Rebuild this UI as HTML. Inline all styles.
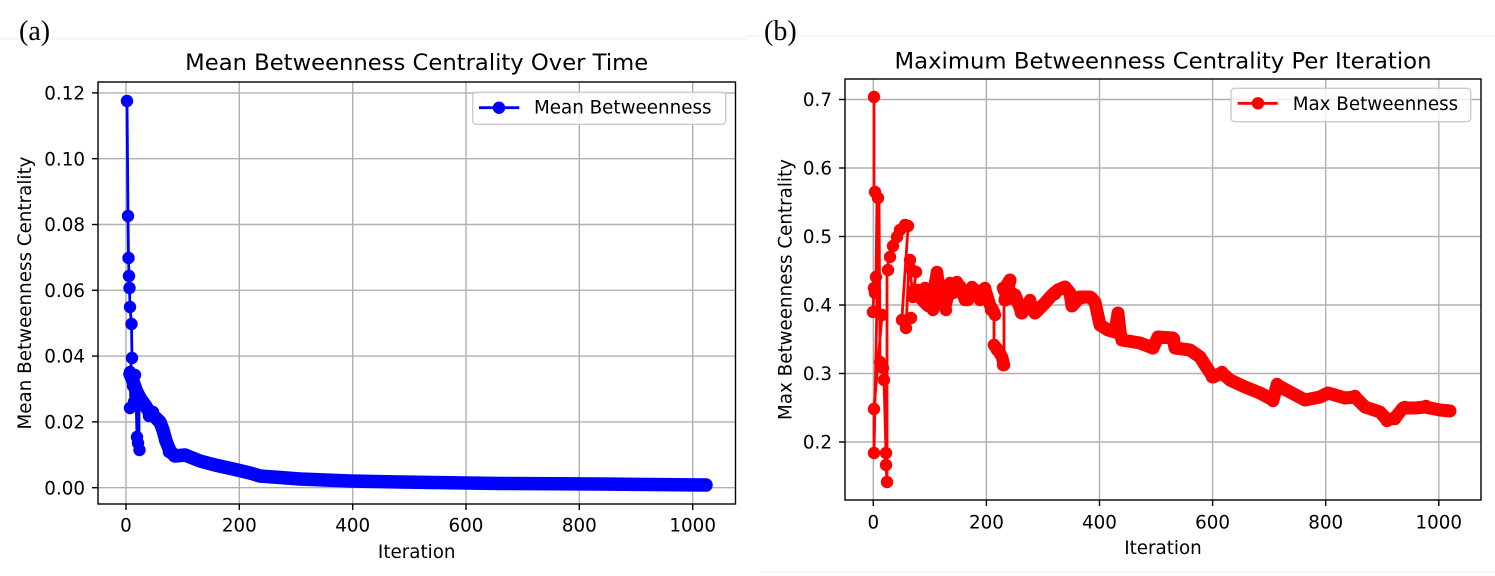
<!DOCTYPE html>
<html>
<head>
<meta charset="utf-8">
<style>
  html,body{margin:0;padding:0;background:#fff;}
  svg{display:block;}
  .t{font-family:"DejaVu Sans","Liberation Sans",sans-serif;fill:#000;}
  .s{font-family:"Liberation Serif","DejaVu Serif",serif;fill:#000;}
</style>
</head>
<body>
<svg width="1495" height="576" viewBox="0 0 1495 576" xmlns="http://www.w3.org/2000/svg">
  <defs>
    <clipPath id="ca"><rect x="98" y="82" width="637.5" height="422"/></clipPath>
    <clipPath id="cb"><rect x="845" y="79" width="636" height="421"/></clipPath>
  </defs>
  <rect x="0" y="0" width="1495" height="576" fill="#fff"/>
  <line x1="0" y1="39" x2="750" y2="39" stroke="#eeeeee" stroke-width="1"/>
  <line x1="745" y1="36" x2="1495" y2="36" stroke="#eeeeee" stroke-width="1"/>
  <line x1="760" y1="572" x2="1495" y2="572" stroke="#eeeeee" stroke-width="1"/>

  <text class="s" x="19" y="40" font-size="28">(a)</text>
  <text class="s" x="764" y="40" font-size="28">(b)</text>

  <!-- ================= LEFT PANEL ================= -->
  <g stroke="#b0b0b0" stroke-width="1.4">
    <line x1="98" y1="487.7" x2="735.5" y2="487.7"/>
    <line x1="98" y1="421.9" x2="735.5" y2="421.9"/>
    <line x1="98" y1="356.1" x2="735.5" y2="356.1"/>
    <line x1="98" y1="290.3" x2="735.5" y2="290.3"/>
    <line x1="98" y1="224.5" x2="735.5" y2="224.5"/>
    <line x1="98" y1="158.7" x2="735.5" y2="158.7"/>
    <line x1="98" y1="92.9" x2="735.5" y2="92.9"/>
    <line x1="126" y1="82" x2="126" y2="504"/>
    <line x1="239.3" y1="82" x2="239.3" y2="504"/>
    <line x1="352.7" y1="82" x2="352.7" y2="504"/>
    <line x1="466" y1="82" x2="466" y2="504"/>
    <line x1="579.3" y1="82" x2="579.3" y2="504"/>
    <line x1="692.7" y1="82" x2="692.7" y2="504"/>
  </g>

  <g clip-path="url(#ca)">
    <polyline fill="none" stroke="#0000ff" stroke-width="2.8" stroke-linejoin="round"
      points="127,101 128,216 128.5,258 129,276 129.5,288 130,307 131.5,324 132,358 130,372 131,408 135,375 136,395 137,437 138,443 139,450 139,400 140,398"/>
    <polyline fill="none" stroke="#0000ff" stroke-width="13.5" stroke-linejoin="round" stroke-linecap="round"
      points="130,374 133,381 136,390 140,398 145,405 150,413 156,418 160,422 163,430 166,441 170,451 175,456 185,455 200,461 215,465 233,469 250,473 260,476 300,479 350,481 400,482 500,483.5 600,484 706,485"/>
    <g fill="#0000ff">
      <circle cx="127" cy="101" r="6.2"/>
      <circle cx="128" cy="216" r="6.2"/>
      <circle cx="128.5" cy="258" r="6.2"/>
      <circle cx="129" cy="276" r="6.2"/>
      <circle cx="129.5" cy="288" r="6.2"/>
      <circle cx="130" cy="307" r="6.2"/>
      <circle cx="131.5" cy="324" r="6.2"/>
      <circle cx="132" cy="358" r="6.2"/>
      <circle cx="130" cy="372" r="6.2"/>
      <circle cx="135" cy="375" r="6.2"/>
      <circle cx="130" cy="408" r="6.2"/>
      <circle cx="134" cy="402" r="6.2"/>
      <circle cx="133" cy="386" r="6.2"/>
      <circle cx="138" cy="394" r="6.2"/>
      <circle cx="141" cy="400" r="6.2"/>
      <circle cx="137" cy="437" r="6.2"/>
      <circle cx="138" cy="443" r="6.2"/>
      <circle cx="139.5" cy="450" r="6.2"/>
      <circle cx="149" cy="416" r="6.2"/>
      <circle cx="157" cy="420" r="6.2"/>
      <circle cx="146" cy="408" r="6.2"/>
      <circle cx="153" cy="412" r="6.2"/>
      <circle cx="165" cy="440" r="6.2"/>
      <circle cx="169" cy="452" r="6.2"/>
      <circle cx="174" cy="456" r="6.2"/>
      <circle cx="186" cy="455" r="6.2"/>
      <circle cx="258" cy="476" r="6.2"/>
      <circle cx="706" cy="485" r="6.2"/>
    </g>
  </g>

  <rect x="98" y="82" width="637.5" height="422" fill="none" stroke="#000" stroke-width="1.4"/>
  <g stroke="#000" stroke-width="1.4">
    <line x1="92" y1="487.7" x2="98" y2="487.7"/>
    <line x1="92" y1="421.9" x2="98" y2="421.9"/>
    <line x1="92" y1="356.1" x2="98" y2="356.1"/>
    <line x1="92" y1="290.3" x2="98" y2="290.3"/>
    <line x1="92" y1="224.5" x2="98" y2="224.5"/>
    <line x1="92" y1="158.7" x2="98" y2="158.7"/>
    <line x1="92" y1="92.9" x2="98" y2="92.9"/>
    <line x1="126" y1="504" x2="126" y2="510"/>
    <line x1="239.3" y1="504" x2="239.3" y2="510"/>
    <line x1="352.7" y1="504" x2="352.7" y2="510"/>
    <line x1="466" y1="504" x2="466" y2="510"/>
    <line x1="579.3" y1="504" x2="579.3" y2="510"/>
    <line x1="692.7" y1="504" x2="692.7" y2="510"/>
  </g>
  <g class="t" font-size="18.3" text-anchor="end">
    <text x="85" y="494.3">0.00</text>
    <text x="85" y="428.5">0.02</text>
    <text x="85" y="362.7">0.04</text>
    <text x="85" y="296.9">0.06</text>
    <text x="85" y="231.1">0.08</text>
    <text x="85" y="165.3">0.10</text>
    <text x="85" y="99.5">0.12</text>
  </g>
  <g class="t" font-size="18.3" text-anchor="middle">
    <text x="126" y="531.7">0</text>
    <text x="239.3" y="531.7">200</text>
    <text x="352.7" y="531.7">400</text>
    <text x="466" y="531.7">600</text>
    <text x="579.3" y="531.7">800</text>
    <text x="692.7" y="531.7">1000</text>
    <text x="416.7" y="558">Iteration</text>
    <text x="416.7" y="70" font-size="22" textLength="463" lengthAdjust="spacingAndGlyphs">Mean Betweenness Centrality Over Time</text>
    <text x="0" y="0" transform="translate(31,293) rotate(-90)">Mean Betweenness Centrality</text>
  </g>
  <rect x="472.7" y="92.3" width="253" height="32" rx="3.5" ry="3.5" fill="#fff" fill-opacity="0.8" stroke="#cccccc" stroke-width="1.4"/>
  <line x1="479" y1="107.7" x2="519.3" y2="107.7" stroke="#0000ff" stroke-width="2.8"/>
  <circle cx="499" cy="107.7" r="6.2" fill="#0000ff"/>
  <text class="t" x="534" y="113.5" font-size="18.3">Mean Betweenness</text>

  <!-- ================= RIGHT PANEL ================= -->
  <g stroke="#b0b0b0" stroke-width="1.4">
    <line x1="845" y1="442" x2="1481" y2="442"/>
    <line x1="845" y1="373.5" x2="1481" y2="373.5"/>
    <line x1="845" y1="305" x2="1481" y2="305"/>
    <line x1="845" y1="236.5" x2="1481" y2="236.5"/>
    <line x1="845" y1="168" x2="1481" y2="168"/>
    <line x1="845" y1="99.5" x2="1481" y2="99.5"/>
    <line x1="873.3" y1="79" x2="873.3" y2="500"/>
    <line x1="986.4" y1="79" x2="986.4" y2="500"/>
    <line x1="1099.5" y1="79" x2="1099.5" y2="500"/>
    <line x1="1212.6" y1="79" x2="1212.6" y2="500"/>
    <line x1="1325.7" y1="79" x2="1325.7" y2="500"/>
    <line x1="1438.8" y1="79" x2="1438.8" y2="500"/>
  </g>

  <g clip-path="url(#cb)">
    <polyline fill="none" stroke="#ff0000" stroke-width="2.8" stroke-linejoin="round"
      points="874,97 874,192 877,197 876,277 875,293 874,288 873,312 882,315 874,409 874,453 879,197 880,362 883,368 884,380 886,453 886,465 887,482 887,270 889,257 893,243 897,237 900,230 903,225 907,225 908,228 902,317 906,328 909,262 913,296 916,272 914,290"/>
    <polyline fill="none" stroke="#ff0000" stroke-width="2.8" points="994,312 994,345"/>
    <polyline fill="none" stroke="#ff0000" stroke-width="2.8" points="1004,365 1004,290"/>
    <polyline fill="none" stroke="#ff0000" stroke-width="12.5" stroke-linejoin="round" stroke-linecap="round"
      points="914,290 918,292 922,300 928,306 933,295 937,272 940,295 945,308 950,287 955,292 960,286 965,300 970,294 975,290 980,300 985,289 990,305 994,312"/>
    <polyline fill="none" stroke="#ff0000" stroke-width="12.5" stroke-linejoin="round" stroke-linecap="round"
      points="994,345 998,350 1002,357 1004,365"/>
    <polyline fill="none" stroke="#ff0000" stroke-width="13" stroke-linejoin="round" stroke-linecap="round"
      points="1004,290 1010,280 1005,300 1015,295 1022,313 1030,302 1035,313 1045,303 1052,295 1058,290 1065,287 1070,293 1072,306 1080,297 1090,297 1095,302 1100,325 1108,330 1115,332 1118,313 1120,332 1122,340 1140,343 1153,348 1158,337 1173,338 1175,348 1190,350 1200,357 1205,365 1213,377 1222,373 1230,380 1245,387 1260,393 1273,400 1277,385 1290,392 1305,400 1320,397 1328,393 1345,398 1355,397 1365,407 1380,412 1387,420 1395,418 1403,408 1415,408 1425,407 1440,410 1450,411"/>
    <g fill="#ff0000">
      <circle cx="874" cy="97" r="6.2"/>
      <circle cx="875" cy="192" r="6.2"/>
      <circle cx="878" cy="198" r="6.2"/>
      <circle cx="876" cy="277" r="6.2"/>
      <circle cx="875" cy="293" r="6.2"/>
      <circle cx="874" cy="288" r="6.2"/>
      <circle cx="873" cy="312" r="6.2"/>
      <circle cx="882" cy="315" r="6.2"/>
      <circle cx="874" cy="409" r="6.2"/>
      <circle cx="874" cy="453" r="6.2"/>
      <circle cx="886" cy="453" r="6.2"/>
      <circle cx="880" cy="362" r="6.2"/>
      <circle cx="883" cy="368" r="6.2"/>
      <circle cx="884" cy="380" r="6.2"/>
      <circle cx="886" cy="465" r="6.2"/>
      <circle cx="887" cy="482" r="6.2"/>
      <circle cx="888" cy="270" r="6.2"/>
      <circle cx="890" cy="257" r="6.2"/>
      <circle cx="893" cy="246" r="6.2"/>
      <circle cx="897" cy="237" r="6.2"/>
      <circle cx="900" cy="230" r="6.2"/>
      <circle cx="905" cy="225" r="6.2"/>
      <circle cx="908" cy="226" r="6.2"/>
      <circle cx="902" cy="320" r="6.2"/>
      <circle cx="906" cy="328" r="6.2"/>
      <circle cx="910" cy="260" r="6.2"/>
      <circle cx="913" cy="297" r="6.2"/>
      <circle cx="916" cy="272" r="6.2"/>
      <circle cx="911" cy="318" r="6.2"/>
      <!-- bumpy band markers -->
      <circle cx="912" cy="270" r="6.2"/>
      <circle cx="918" cy="290" r="6.2"/>
      <circle cx="925" cy="288" r="6.2"/>
      <circle cx="930" cy="293" r="6.2"/>
      <circle cx="928" cy="300" r="6.2"/>
      <circle cx="933" cy="310" r="6.2"/>
      <circle cx="937" cy="275" r="6.2"/>
      <circle cx="936" cy="283" r="6.2"/>
      <circle cx="940" cy="300" r="6.2"/>
      <circle cx="946" cy="310" r="6.2"/>
      <circle cx="950" cy="283" r="6.2"/>
      <circle cx="953" cy="293" r="6.2"/>
      <circle cx="957" cy="282" r="6.2"/>
      <circle cx="960" cy="287" r="6.2"/>
      <circle cx="965" cy="293" r="6.2"/>
      <circle cx="968" cy="300" r="6.2"/>
      <circle cx="972" cy="287" r="6.2"/>
      <circle cx="976" cy="290" r="6.2"/>
      <circle cx="980" cy="298" r="6.2"/>
      <circle cx="985" cy="288" r="6.2"/>
      <circle cx="988" cy="300" r="6.2"/>
      <circle cx="991" cy="310" r="6.2"/>
      <circle cx="995" cy="315" r="6.2"/>
      <circle cx="994" cy="345" r="6.2"/>
      <circle cx="997" cy="350" r="6.2"/>
      <circle cx="1000" cy="353" r="6.2"/>
      <circle cx="1003" cy="365" r="6.2"/>
      <circle cx="1003" cy="288" r="6.2"/>
      <circle cx="1010" cy="280" r="6.2"/>
      <circle cx="1012" cy="293" r="6.2"/>
      <circle cx="1015" cy="300" r="6.2"/>
      <circle cx="1021" cy="313" r="6.2"/>
      <circle cx="1030" cy="300" r="6.2"/>
      <circle cx="1035" cy="313" r="6.2"/>
      <circle cx="1045" cy="303" r="6.2"/>
      <circle cx="1055" cy="294" r="6.2"/>
      <circle cx="1065" cy="287" r="6.2"/>
      <circle cx="1072" cy="305" r="6.2"/>
      <circle cx="1082" cy="298" r="6.2"/>
      <circle cx="1092" cy="298" r="6.2"/>
      <circle cx="1102" cy="326" r="6.2"/>
      <circle cx="1118" cy="313" r="6.2"/>
      <circle cx="1122" cy="339" r="6.2"/>
      <circle cx="1152" cy="348" r="6.2"/>
      <circle cx="1158" cy="337" r="6.2"/>
      <circle cx="1174" cy="339" r="6.2"/>
      <circle cx="1176" cy="348" r="6.2"/>
      <circle cx="1212" cy="377" r="6.2"/>
      <circle cx="1222" cy="372" r="6.2"/>
      <circle cx="1273" cy="401" r="6.2"/>
      <circle cx="1277" cy="384" r="6.2"/>
      <circle cx="1306" cy="400" r="6.2"/>
      <circle cx="1328" cy="393" r="6.2"/>
      <circle cx="1355" cy="396" r="6.2"/>
      <circle cx="1387" cy="421" r="6.2"/>
      <circle cx="1395" cy="419" r="6.2"/>
      <circle cx="1405" cy="407" r="6.2"/>
      <circle cx="1426" cy="406" r="6.2"/>
      <circle cx="1450" cy="411" r="6.2"/>
    </g>
  </g>

  <rect x="845" y="79" width="636" height="421" fill="none" stroke="#000" stroke-width="1.4"/>
  <g stroke="#000" stroke-width="1.4">
    <line x1="839" y1="442" x2="845" y2="442"/>
    <line x1="839" y1="373.5" x2="845" y2="373.5"/>
    <line x1="839" y1="305" x2="845" y2="305"/>
    <line x1="839" y1="236.5" x2="845" y2="236.5"/>
    <line x1="839" y1="168" x2="845" y2="168"/>
    <line x1="839" y1="99.5" x2="845" y2="99.5"/>
    <line x1="873.3" y1="500" x2="873.3" y2="506"/>
    <line x1="986.4" y1="500" x2="986.4" y2="506"/>
    <line x1="1099.5" y1="500" x2="1099.5" y2="506"/>
    <line x1="1212.6" y1="500" x2="1212.6" y2="506"/>
    <line x1="1325.7" y1="500" x2="1325.7" y2="506"/>
    <line x1="1438.8" y1="500" x2="1438.8" y2="506"/>
  </g>
  <g class="t" font-size="18.3" text-anchor="end">
    <text x="832" y="448.6">0.2</text>
    <text x="832" y="380.1">0.3</text>
    <text x="832" y="311.6">0.4</text>
    <text x="832" y="243.1">0.5</text>
    <text x="832" y="174.6">0.6</text>
    <text x="832" y="106.1">0.7</text>
  </g>
  <g class="t" font-size="18.3" text-anchor="middle">
    <text x="873.3" y="528.3">0</text>
    <text x="986.4" y="528.3">200</text>
    <text x="1099.5" y="528.3">400</text>
    <text x="1212.6" y="528.3">600</text>
    <text x="1325.7" y="528.3">800</text>
    <text x="1438.8" y="528.3">1000</text>
    <text x="1163" y="554">Iteration</text>
    <text x="1163" y="68.3" font-size="22" textLength="537" lengthAdjust="spacingAndGlyphs">Maximum Betweenness Centrality Per Iteration</text>
    <text x="0" y="0" transform="translate(791.5,289.5) rotate(-90)">Max Betweenness Centrality</text>
  </g>
  <rect x="1231" y="88.3" width="239.7" height="33.4" rx="3.5" ry="3.5" fill="#fff" fill-opacity="0.8" stroke="#cccccc" stroke-width="1.4"/>
  <line x1="1237.7" y1="103.3" x2="1277.7" y2="103.3" stroke="#ff0000" stroke-width="2.8"/>
  <circle cx="1258" cy="103.3" r="6.2" fill="#ff0000"/>
  <text class="t" x="1292.7" y="110" font-size="18.3">Max Betweenness</text>
</svg>
</body>
</html>
